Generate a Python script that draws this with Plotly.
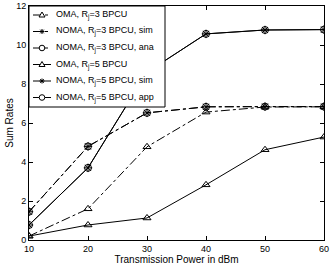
import plotly.graph_objects as go

power = [10, 20, 30, 40, 50, 60]
oma_r3 = [0.2, 1.6, 4.78, 6.56, 6.82, 6.83]
noma_r3_sim = [1.45, 4.8, 6.52, 6.83, 6.84, 6.84]
noma_r3_ana = [1.45, 4.8, 6.52, 6.83, 6.84, 6.84]
oma_r5 = [0.2, 0.77, 1.13, 2.83, 4.63, 5.28]
noma_r5_sim = [0.77, 3.7, 8.6, 10.57, 10.77, 10.79]
noma_r5_app = [0.77, 3.7, 8.6, 10.57, 10.77, 10.79]

names = ["OMA, R<sub>j</sub>=3 BPCU", "NOMA, R<sub>j</sub>=3 BPCU, sim", "NOMA, R<sub>j</sub>=3 BPCU, ana",
         "OMA, R<sub>j</sub>=5 BPCU", "NOMA, R<sub>j</sub>=5 BPCU, sim", "NOMA, R<sub>j</sub>=5 BPCU, app"]
series = [oma_r3, noma_r3_sim, noma_r3_ana, oma_r5, noma_r5_sim, noma_r5_app]
dashes = ["dashdot", "dashdot", "dashdot", "solid", "solid", "solid"]
symbols = ["triangle-up-open", "asterisk-open", "circle-open", "triangle-up-open", "asterisk-open", "circle-open"]

# plot-area geometry in pixels (for the hand-built legend box)
W, H = 332, 266
L, R, T, B = 29, 8, 6, 26
PW, PH = W - L - R, H - T - B


def px_x(p):
    return (p - L) / PW


def px_y(p):
    return (H - B - p) / PH


fig = go.Figure()
for n, s, d, sym in zip(names, series, dashes, symbols):
    fig.add_trace(go.Scatter(
        x=power, y=s, name=n, mode="lines+markers", showlegend=False,
        line=dict(color="black", width=1, dash=d),
        marker=dict(symbol=sym, size=7, color="black", line=dict(color="black", width=1)),
    ))

shapes = [dict(type="rect", xref="paper", yref="paper", x0=0, x1=px_x(165), y0=px_y(107), y1=1,
               fillcolor="white", line=dict(color="black", width=1), layer="above")]
annotations = []
marker_paths = {
    "triangle-up-open": "M -3,-2 L 3,-2 L 0,3 Z",
    "asterisk-open": "M -2.5,0 L 2.5,0 M 0,-2.5 L 0,2.5 M -1.8,-1.8 L 1.8,1.8 M -1.8,1.8 L 1.8,-1.8",
}
for i, (n, d, sym) in enumerate(zip(names, dashes, symbols)):
    yp = px_y(15 + 16.5 * i)
    shapes.append(dict(type="line", xref="paper", yref="paper", x0=px_x(33), x1=px_x(51), y0=yp, y1=yp,
                       line=dict(color="black", width=1, dash=d), layer="above"))
    if sym == "circle-open":
        shapes.append(dict(type="circle", xref="paper", yref="paper", xsizemode="pixel", ysizemode="pixel",
                           xanchor=px_x(42), yanchor=yp, x0=-2.8, x1=2.8, y0=-2.8, y1=2.8,
                           line=dict(color="black", width=1), fillcolor="white", layer="above"))
    else:
        shapes.append(dict(type="path", xref="paper", yref="paper", xsizemode="pixel", ysizemode="pixel",
                           xanchor=px_x(42), yanchor=yp, path=marker_paths[sym],
                           line=dict(color="black", width=1), fillcolor="white", layer="above"))
    annotations.append(dict(text=n, xref="paper", yref="paper", x=px_x(55), y=yp, xanchor="left",
                            yanchor="middle", showarrow=False, font=dict(size=9, color="black"),
                            borderpad=0))

axis_common = dict(showline=True, linecolor="black", linewidth=1, mirror="ticks",
                   ticks="inside", ticklen=4, tickcolor="black", showgrid=False, zeroline=False,
                   automargin=False, tickfont=dict(size=9, color="black"))
fig.update_xaxes(range=[10, 60], tickvals=[10, 20, 30, 40, 50, 60],
                 title=dict(text="Transmission Power in dBm", font=dict(size=10, color="black"), standoff=0),
                 **axis_common)
fig.update_yaxes(range=[0, 12], tickvals=[0, 2, 4, 6, 8, 10, 12],
                 title=dict(text="Sum Rates", font=dict(size=10, color="black"), standoff=0),
                 **axis_common)
fig.update_layout(
    width=W, height=H,
    margin=dict(l=L, r=R, t=T, b=B),
    paper_bgcolor="white", plot_bgcolor="white",
    font=dict(family="Liberation Sans, Arial, sans-serif", color="black"),
    showlegend=False,
    shapes=shapes, annotations=annotations,
)
fig.write_html("out.html", config={"displayModeBar": False},
               post_script="document.body.style.margin='0';")
